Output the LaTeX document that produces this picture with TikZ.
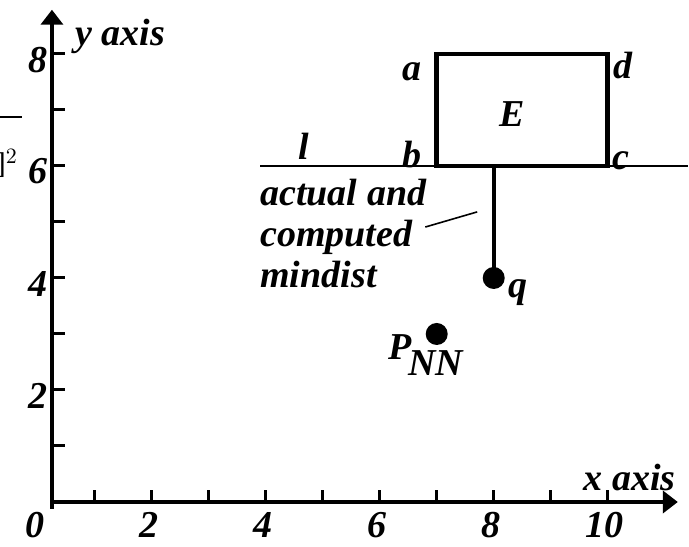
\documentclass[tikz,border=0pt]{standalone}
\usepackage{fontspec}
\setmainfont{Liberation Serif}
\usetikzlibrary{arrows.meta,positioning,calc}
\definecolor{inkblack}{RGB}{0,0,0}
\tikzset{
  axisline/.style={-{Triangle[length=7.5pt,width=11pt]}, inkblack, line width=2pt},
  tickmk/.style={inkblack, line width=1.5pt},
  boxline/.style={inkblack, line width=2.4pt, line join=miter},
  stemline/.style={inkblack, line width=2pt},
  thinline/.style={inkblack, line width=0.8pt},
  lbl/.style={font=\fontsize{19}{20.5}\selectfont\bfseries\itshape, inner sep=0pt},
  dotpt/.style={circle, fill=inkblack, inner sep=0pt, minimum size=11pt},
}

\begin{document}
\begin{tikzpicture}[x=28.5pt, y=28pt]
  \useasboundingbox (-0.6614,-0.7857) rectangle (11.426,8.964);
  % axes
  \coordinate (org) at (0.25,0);
  \coordinate (xend) at (11.23,0);
  \coordinate (yend) at (0.25,8.79);
  \draw[axisline] (org) -- (xend);
  \draw[axisline] ($(org)+(0,-0.12)$) -- (yend);
  \foreach \i in {1,...,10}
    \draw[tickmk] (\i,0) -- ++(0,0.21);
  \foreach \j in {1,...,8}
    \draw[tickmk] (0.25,\j) -- ++(0.23,0);
  \foreach \i in {0,2,...,10}
    \node[lbl] (xt\i) at (\i-0.05,-0.41) {\i};
  \foreach \j in {2,4,...,8}
    \node[lbl] (yt\j) at (0,\j-0.1) {\j};
  \node[lbl, anchor=base west] (xlab) at (9.57,0.21) {x axis};
  \node[lbl, anchor=base west] (ylab) at (0.655,8.16) {y axis};

  % line l and the rectangle E
  \coordinate (lstart) at (3.9,6);
  \coordinate (lend) at (11.4,6);
  \draw[thinline] (lstart) -- (lend);
  \coordinate (a) at (7,8);
  \coordinate (b) at (7,6);
  \coordinate (c) at (10,6);
  \coordinate (d) at (10,8);
  \draw[boxline] (a) -- (b) -- (c) -- (d) -- cycle;
  \node[lbl] (alab) at (6.57,7.68) {a};
  \node[lbl] (blab) at (6.57,6.2) {b};
  \node[lbl] (clab) at (10.23,6.09) {c};
  \node[lbl] (dlab) at (10.27,7.8) {d};
  \node[lbl] (elab) at (8.32,6.93) {E};
  \node[lbl] (llab) at (4.67,6.36) {l};

  % query point and nearest neighbour
  \node[dotpt] (q) at (8,4) {};
  \draw[stemline] (q.center) -- (q |- b);
  \node[lbl, anchor=base west] (qlab) at (8.25,3.66) {q};
  \node[dotpt] (pnn) at (7,3) {};
  \node[lbl, anchor=base west] (pnnlab) at (6.15,2.54)
       {P\kern-0.1em\raisebox{-0.42em}{NN}};

  % mindist note
  \node[lbl, anchor=north west, align=left] (mdtxt) at (3.9,5.78)
       {actual and\\computed\\mindist};
  \coordinate (ldA) at (6.8,4.91);
  \coordinate (ldB) at (7.71,5.18);
  \draw[thinline] (ldA) -- (ldB);

  % cut text at the left edge
  \coordinate (fracL) at (-0.66,6.875);
  \coordinate (fracR) at (-0.275,6.875);
  \draw[thinline] (fracL) -- (fracR);
  \node[font=\fontsize{15}{17}\selectfont, anchor=east, inner sep=0pt] (frac)
       at (-0.34,6.05) {]$^2$};
\end{tikzpicture}
\end{document}
